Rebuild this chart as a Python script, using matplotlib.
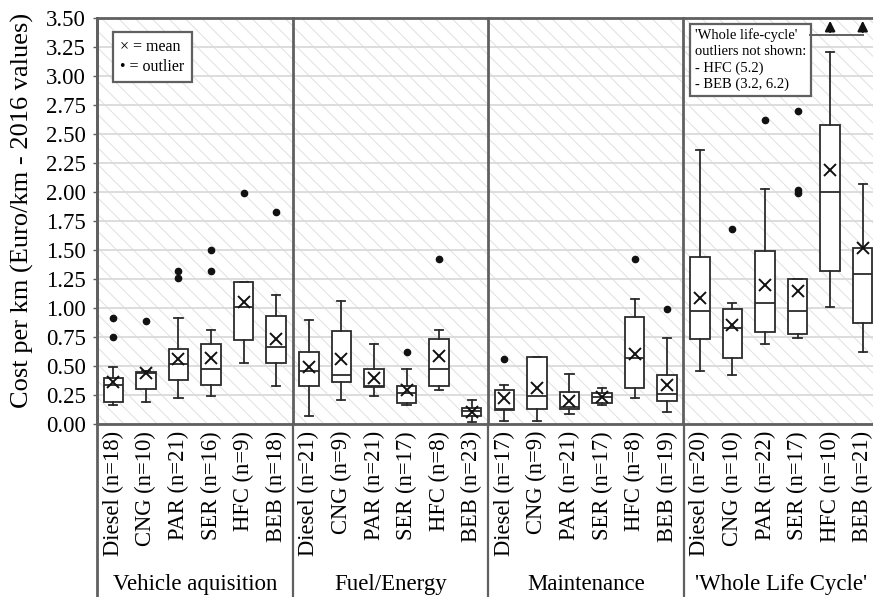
import matplotlib
matplotlib.use("Agg")
import matplotlib.pyplot as plt
from matplotlib.patches import Rectangle
from matplotlib.lines import Line2D

plt.rcParams['font.family'] = ['Liberation Serif', 'DejaVu Serif']
plt.rcParams['hatch.linewidth'] = 0.7
plt.rcParams['hatch.color'] = '#e0e0e0'

# ---------------- data ----------------
groups = ["Vehicle aquisition", "Fuel/Energy", "Maintenance", "'Whole Life Cycle'"]
techs = ["Diesel", "CNG", "PAR", "SER", "HFC", "BEB"]
n_vehicle = [18, 10, 21, 16, 9, 18]
n_fuel = [21, 9, 21, 17, 8, 23]
n_maint = [17, 9, 21, 17, 8, 19]
n_wlc = [20, 10, 22, 17, 10, 21]

# per box: whisker low, Q1, median, Q3, whisker high
veh_whislo = [0.16, 0.19, 0.22, 0.24, 0.53, 0.33]
veh_q1 = [0.19, 0.30, 0.38, 0.34, 0.72, 0.53]
veh_med = [0.34, 0.44, 0.52, 0.47, 1.01, 0.66]
veh_q3 = [0.40, 0.45, 0.65, 0.69, 1.22, 0.93]
veh_whishi = [0.49, 0.46, 0.91, 0.81, 1.22, 1.11]
veh_mean = [0.36, 0.44, 0.56, 0.57, 1.05, 0.73]
veh_fliers = [[0.91, 0.75], [0.89], [1.32, 1.26], [1.50, 1.32], [1.99], [1.83]]

fuel_whislo = [0.07, 0.21, 0.24, 0.16, 0.29, 0.02]
fuel_q1 = [0.33, 0.36, 0.32, 0.18, 0.33, 0.07]
fuel_med = [0.46, 0.42, 0.33, 0.27, 0.47, 0.11]
fuel_q3 = [0.62, 0.80, 0.47, 0.33, 0.73, 0.14]
fuel_whishi = [0.90, 1.06, 0.69, 0.47, 0.81, 0.21]
fuel_mean = [0.49, 0.56, 0.40, 0.29, 0.59, 0.10]
fuel_fliers = [[], [], [], [0.62], [1.42], []]

mnt_whislo = [0.03, 0.03, 0.09, 0.16, 0.22, 0.10]
mnt_q1 = [0.12, 0.13, 0.13, 0.18, 0.31, 0.20]
mnt_med = [0.13, 0.24, 0.15, 0.23, 0.57, 0.26]
mnt_q3 = [0.29, 0.58, 0.28, 0.27, 0.92, 0.42]
mnt_whishi = [0.34, 0.58, 0.43, 0.31, 1.08, 0.74]
mnt_mean = [0.22, 0.31, 0.20, 0.23, 0.60, 0.34]
mnt_fliers = [[0.56], [], [], [], [1.42], [0.99]]

wlc_whislo = [0.46, 0.42, 0.69, 0.74, 1.01, 0.62]
wlc_q1 = [0.73, 0.57, 0.79, 0.78, 1.32, 0.87]
wlc_med = [0.97, 0.83, 1.04, 0.97, 2.00, 1.29]
wlc_q3 = [1.44, 0.99, 1.49, 1.25, 2.58, 1.52]
wlc_whishi = [2.36, 1.04, 2.03, 1.25, 3.21, 2.07]
wlc_mean = [1.09, 0.85, 1.20, 1.15, 2.19, 1.52]
wlc_fliers = [[], [1.68], [2.62], [2.70, 2.02, 1.99], [], []]

yticks = [0.00, 0.25, 0.50, 0.75, 1.00, 1.25, 1.50, 1.75, 2.00, 2.25, 2.50, 2.75, 3.00, 3.25, 3.50]

# ---------------- figure ----------------
W, H = 873, 597
fig = plt.figure(figsize=(W / 100, H / 100), dpi=100)
left_px, right_px, top_px, bot_px = 97, 879, 18, 424
ax = fig.add_axes([left_px / W, 1 - bot_px / H, (right_px - left_px) / W, (bot_px - top_px) / H])
ax.set_xlim(0, 24)
ax.set_ylim(0, 3.5)

# hatched background
ax.add_patch(Rectangle((0, 0), 24, 3.5, facecolor='white', edgecolor='#e0e0e0',
                       hatch='\\\\', linewidth=0, zorder=0))
for yv in yticks:
    ax.axhline(yv, color='#dadada', lw=1.3, zorder=0.5)

sets = [
    (veh_whislo, veh_q1, veh_med, veh_q3, veh_whishi, veh_mean, veh_fliers),
    (fuel_whislo, fuel_q1, fuel_med, fuel_q3, fuel_whishi, fuel_mean, fuel_fliers),
    (mnt_whislo, mnt_q1, mnt_med, mnt_q3, mnt_whishi, mnt_mean, mnt_fliers),
    (wlc_whislo, wlc_q1, wlc_med, wlc_q3, wlc_whishi, wlc_mean, wlc_fliers),
]
stats = []
for s in sets:
    for i in range(6):
        stats.append(dict(whislo=s[0][i], q1=s[1][i], med=s[2][i], q3=s[3][i],
                          whishi=s[4][i], mean=s[5][i], fliers=s[6][i]))
positions = [k + 0.5 for k in range(24)]
dark = '#2b2b2b'
ax.bxp(stats, positions=positions, widths=0.6, showmeans=True, showfliers=True,
       patch_artist=True,
       boxprops=dict(facecolor='white', edgecolor=dark, linewidth=1.3),
       medianprops=dict(color=dark, linewidth=1.3),
       whiskerprops=dict(color=dark, linewidth=1.3),
       capprops=dict(color=dark, linewidth=1.3),
       capwidths=0.25,
       meanprops=dict(marker='x', markersize=8, markeredgecolor='#111111', markeredgewidth=1.4),
       flierprops=dict(marker='o', markersize=4.5, markerfacecolor='#111111',
                       markeredgecolor='#111111'),
       manage_ticks=False, zorder=3)

# axes styling
frame_col = '#606060'
for sp in ax.spines.values():
    sp.set_color(frame_col)
    sp.set_linewidth(2)
ax.spines['right'].set_visible(False)
ax.set_xticks([])
ax.set_yticks(yticks)
ax.set_yticklabels([f"{v:.2f}" for v in yticks], fontsize=16.5)
ax.tick_params(axis='y', length=3, width=1, color=frame_col, pad=5)
ax.set_ylabel("Cost per km (Euro/km - 2016 values)", fontsize=19)
ax.yaxis.set_label_coords(-0.081, 0.525)

# group separators extending down to the bottom
ybot = -(H - bot_px) / (bot_px - top_px)
for xs in [0, 6, 12, 18]:
    ax.add_line(Line2D([xs, xs], [3.5, 0], color=frame_col, lw=2, zorder=5, clip_on=False))
    ax.plot([xs / 24, xs / 24], [0, ybot - 0.01], transform=ax.transAxes, color=frame_col,
            lw=2 if xs == 0 else 1.6, clip_on=False, zorder=5)

# category labels
ns = [n_vehicle, n_fuel, n_maint, n_wlc]
for g in range(4):
    for i in range(6):
        ax.text(g * 6 + i + 0.5, -0.06, f"{techs[i]} (n={ns[g][i]})", rotation=90,
                ha='center', va='top', fontsize=16.3)
    ax.text(g * 6 + 3, -1.38, groups[g], ha='center', va='center', fontsize=16.5)

# legend box
ax.text(0.72, 3.32, "\u00d7 = mean\n\u2022 = outlier", ha='left', va='top', fontsize=11.5,
        linespacing=1.35, zorder=6,
        bbox=dict(boxstyle='square,pad=0.45', facecolor='white', edgecolor=frame_col, linewidth=1.6))

# outlier note box
ax.text(18.35, 3.41, "'Whole life-cycle'\noutliers not shown:\n- HFC (5.2)\n- BEB (3.2, 6.2)",
        ha='left', va='top', fontsize=10.5, linespacing=1.3, zorder=6,
        bbox=dict(boxstyle='square,pad=0.35', facecolor='white', edgecolor=frame_col, linewidth=1.6))
ax.plot([21.88, 23.5], [3.355, 3.355], color=frame_col, lw=1.4, zorder=6, clip_on=False)
for xa in [22.5, 23.5]:
    ax.annotate("", xy=(xa, 3.50), xytext=(xa, 3.355),
                arrowprops=dict(arrowstyle='-|>,head_width=0.3,head_length=0.6',
                                color='#111111', lw=1.5), zorder=7, annotation_clip=False)

fig.savefig("out.png", dpi=100)
